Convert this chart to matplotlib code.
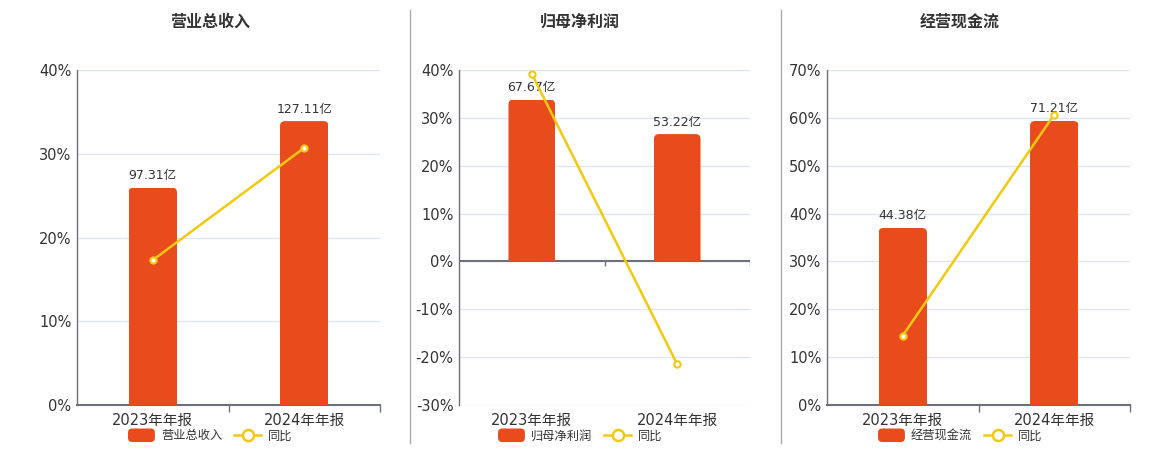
import matplotlib
matplotlib.use("Agg")
import matplotlib.pyplot as plt
from matplotlib.patches import Patch, FancyBboxPatch
from matplotlib.lines import Line2D
from matplotlib.legend_handler import HandlerPatch

plt.rcParams['font.family'] = ['DejaVu Sans', 'Noto Sans CJK SC']

categories = ["2023年年报", "2024年年报"]

titles = ["营业总收入", "归母净利润", "经营现金流"]
bar_values = [[97.31, 127.11], [67.67, 53.22], [44.38, 71.21]]
yoy_values = [[17.3, 30.7], [39.2, -21.5], [14.5, 60.7]]
pct_limits = [(0, 40), (-30, 40), (0, 70)]
pct_ticks = [[0, 10, 20, 30, 40], [-30, -20, -10, 0, 10, 20, 30, 40],
             [0, 10, 20, 30, 40, 50, 60, 70]]
bar_limits = [(0, 150), (-60, 80), (0, 84)]

BAR_C = '#E84B1C'
LINE_C = '#F2C811'
GRID_C = '#E0E6F1'
AXIS_C = '#6E7079'
TXT_C = '#333333'

W, H = 1160, 450
fig = plt.figure(figsize=(W / 100, H / 100), dpi=100)

# axes rectangles in pixels: left, right, top, bottom
rects = [(77, 380, 70, 405), (459, 750, 70, 405), (827, 1130, 70, 405)]
centers = [210, 580, 960]


def rounded_handle(legend, orig_handle, xdescent, ydescent, width, height, fontsize):
    return FancyBboxPatch((-xdescent, -ydescent - 1.5), width, height + 3,
                          boxstyle="round,pad=0,rounding_size=3")


for k in range(3):
    l, r, t, b = rects[k]
    ax = fig.add_axes([l / W, 1 - b / H, (r - l) / W, (b - t) / H])
    x = list(range(len(categories)))
    ax.set_xlim(-0.5, len(categories) - 0.5)
    ax.set_ylim(*pct_limits[k])
    ax.set_yticks(pct_ticks[k])
    ax.set_yticklabels([f"{v}%" for v in pct_ticks[k]])
    ax.grid(axis='y', color=GRID_C, lw=1)
    ax.set_axisbelow(True)
    for s in ['top', 'right']:
        ax.spines[s].set_visible(False)
    ax.spines['left'].set_color(AXIS_C)
    ax.spines['left'].set_linewidth(1)
    ax.tick_params(axis='y', length=0, labelsize=10.5, labelcolor=TXT_C, pad=4)
    ax.set_xticks(x)
    ax.set_xticklabels(categories)
    ax.set_xticks([i + 0.5 for i in x], minor=True)
    ax.tick_params(axis='x', which='major', length=0, labelsize=10.5,
                   labelcolor=TXT_C, pad=6)
    ax.tick_params(axis='x', which='minor', length=5, color=AXIS_C, width=1)
    if pct_limits[k][0] < 0:
        ax.spines['bottom'].set_visible(False)
        ax.tick_params(axis='x', which='minor', length=0)
        ax.axhline(0, color=AXIS_C, lw=1.5, zorder=1)
        ax.vlines([i + 0.5 for i in x], -1.0, 0, color=AXIS_C, lw=1, zorder=1)
    else:
        ax.spines['bottom'].set_color(AXIS_C)
        ax.spines['bottom'].set_linewidth(1.5)

    axb = ax.twinx()
    axb.set_ylim(*bar_limits[k])
    axb.axis('off')
    bars = axb.bar(x, bar_values[k], width=0.32, color=BAR_C, zorder=2)
    # rounded top corners
    px_per_x = (r - l) / len(categories)
    px_per_y = (b - t) / (bar_limits[k][1] - bar_limits[k][0])
    asp = px_per_x / px_per_y
    rad_px = 5
    for rect in bars:
        x0, y0, w, h = rect.get_x(), rect.get_y(), rect.get_width(), rect.get_height()
        rect.set_visible(False)
        fb = FancyBboxPatch((x0, y0 - h * 0.2), w, h * 1.2,
                            boxstyle=f"round,pad=0,rounding_size={rad_px / px_per_x}",
                            mutation_aspect=asp, facecolor=BAR_C, edgecolor='none',
                            zorder=2)
        axb.add_patch(fb)
        fb.set_clip_path(rect)
    for i, v in enumerate(bar_values[k]):
        axb.annotate(f"{v:.2f}亿", (i, v), xytext=(0, 4), textcoords='offset points',
                     ha='center', va='bottom', fontsize=9, color=TXT_C)

    axl = ax.twinx()
    axl.set_ylim(*pct_limits[k])
    axl.axis('off')
    axl.plot(x, yoy_values[k], color=LINE_C, lw=1.8, marker='o', markersize=4.5,
             markerfacecolor='white', markeredgecolor=LINE_C, markeredgewidth=1.5,
             zorder=3)

    fig.text(centers[k] / W, 1 - 22 / H, titles[k], ha='center', va='center',
             fontsize=11.5, fontweight='bold', color=TXT_C)

    handles = [Patch(facecolor=BAR_C, edgecolor='none'),
               Line2D([0], [0], color=LINE_C, lw=1.8, marker='o', markersize=8,
                      markerfacecolor='white', markeredgecolor=LINE_C,
                      markeredgewidth=1.8)]
    fig.legend(handles, [titles[k], "同比"], loc='center',
               bbox_to_anchor=(centers[k] / W, 1 - 436 / H), ncol=2, frameon=False,
               fontsize=8.8, handlelength=2.2, handleheight=0.8, columnspacing=1.0,
               handletextpad=0.5, labelcolor=TXT_C,
               handler_map={Patch: HandlerPatch(patch_func=rounded_handle)})

for xs in [410, 781]:
    fig.add_artist(Line2D([xs / W, xs / W], [1 - 10 / H, 1 - 443 / H],
                          color='#AAAAAA', lw=1, transform=fig.transFigure))

fig.savefig("out.png", dpi=100)
